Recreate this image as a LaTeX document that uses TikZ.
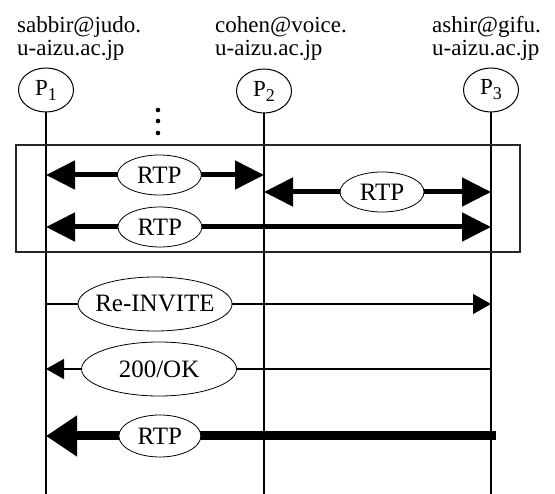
\documentclass[tikz,border=0pt]{standalone}
\usepackage{fontspec}
\setmainfont{Liberation Serif}
\usetikzlibrary{shapes.geometric,arrows.meta}
\newcommand{\party}[1]{P\raisebox{-5pt}{\fontsize{18}{18}\selectfont #1}}

\begin{document}
\begin{tikzpicture}[x=1pt,y=-1pt]
    \tikzset{peer/.style={draw,ellipse,line width=1pt,minimum width=55pt,minimum height=44pt,inner sep=0pt,font=\fontsize{23}{24}\selectfont},
      hostname/.style={anchor=north west,inner sep=0pt,align=left,font=\fontsize{23}{23}\selectfont},
      msg/.style={draw,ellipse,fill=white,line width=0.8pt,inner xsep=-6pt,inner ysep=0pt,font=\fontsize{25}{26}\selectfont},
      rtp/.style={line width=5pt,{Triangle[length=29pt,width=28pt]}-{Triangle[length=29pt,width=28pt]}},
      sip/.style={line width=1.2pt,-{Triangle[length=18pt,width=20pt]}},
      life/.style={line width=1.6pt}}
    \useasboundingbox (0,0) rectangle (555,494);
    \node[hostname] (h1) at (17,16) {sabbir@judo.\\u-aizu.ac.jp};
    \node[hostname] (h2) at (215,16) {cohen@voice.\\u-aizu.ac.jp};
    \node[hostname] (h3) at (432,16) {ashir@gifu.\\u-aizu.ac.jp};
    \node[peer] (P1) at (46,90) {\party{1}};
    \node[peer] (P2) at (264,91) {\party{2}};
    \node[peer] (P3) at (491,90) {\party{3}};
    \foreach \p in {P1,P2,P3}
      \draw[life] (\p.south) -- (\p |- 0,494);
    \foreach \y in {110,121,133}
      \fill (158,\y) circle (2.3pt);
    % media session
    \draw[line width=2.5pt,black!85] (16,145) rectangle (520,252);
    \draw[rtp] (P1 |- 0,175) -- (P2 |- 0,175) node[msg,pos=.52,minimum width=84pt,minimum height=40pt] (r12) {RTP};
    \draw[rtp] (P2 |- 0,192) -- (P3 |- 0,192) node[msg,pos=.52,minimum width=84pt,minimum height=40pt] (r23) {RTP};
    \draw[rtp] (P1 |- 0,227) -- (P3 |- 0,227) node[msg,pos=.256,minimum width=84pt,minimum height=40pt] (r13) {RTP};
    % re-invite
    \draw[sip] (P1 |- 0,304) -- (P3 |- 0,304) node[msg,pos=.245,minimum width=154pt,minimum height=54pt] (inv) {Re-INVITE};
    \draw[sip] (P3 |- 0,369) -- (P1 |- 0,369) node[msg,pos=.746,minimum width=155pt,minimum height=54pt] (ok) {200/OK};
    \coordinate (rtpend) at (496,436);
    \draw[line width=9pt,-{Triangle[length=31pt,width=39pt]}] (rtpend) -- (P1 |- 0,436) node[msg,pos=.747,minimum width=82pt,minimum height=42pt] (r31) {RTP};
\end{tikzpicture}
\end{document}
